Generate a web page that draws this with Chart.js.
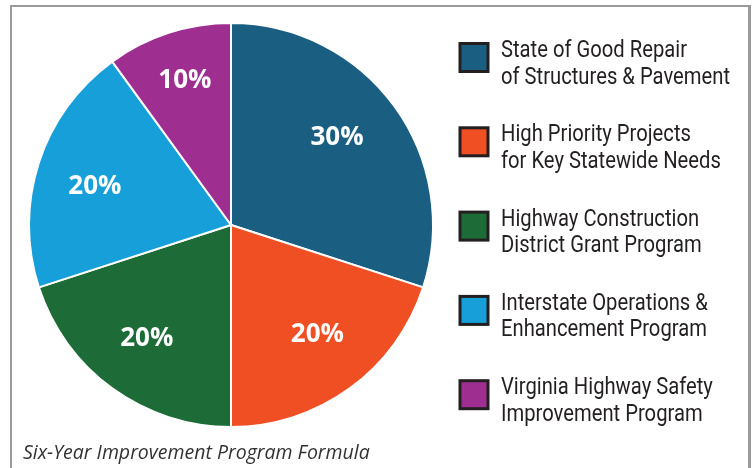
<!DOCTYPE html>
<html>
<head>
<meta charset="utf-8">
<script src="https://cdn.jsdelivr.net/npm/chart.js@4.4.1/dist/chart.umd.min.js"></script>
<style>
  html, body { margin: 0; padding: 0; background: #fff; }
  #wrap { position: relative; width: 753px; height: 468px; overflow: hidden; }
  #frame { position: absolute; left: 10px; top: 5px; width: 736px; height: 500px;
           border-left: 2px solid #9a9a9a; border-top: 2px solid #9a9a9a; border-right: 3px solid #9a9a9a; }
  canvas { position: absolute; left: 0; top: 0; }
</style>
</head>
<body>
<div id="wrap">
  <div id="frame"></div>
  <canvas id="c" width="753" height="468"></canvas>
</div>
<script>
const categories = [
  ["State of Good Repair", "of Structures & Pavement"],
  ["High Priority Projects", "for Key Statewide Needs"],
  ["Highway Construction", "District Grant Program"],
  ["Interstate Operations &", "Enhancement Program"],
  ["Virginia Highway Safety", "Improvement Program"]
];
const shares = [30, 20, 20, 20, 10];
const sliceLabels = ["30%", "20%", "20%", "20%", "10%"];
const colors = ["#1a5f82", "#f04e23", "#1d6b36", "#169fd8", "#9e2f90"];
const caption = "Six-Year Improvement Program Formula";

const overlay = {
  id: 'overlay',
  afterDatasetsDraw(chart) {
    const ctx = chart.ctx;
    const meta = chart.getDatasetMeta(0);
    ctx.save();
    // slice labels
    ctx.fillStyle = '#ffffff';
    ctx.font = 'bold 26px "Open Sans", "Noto Sans", sans-serif';
    ctx.textAlign = 'center';
    ctx.textBaseline = 'middle';
    const frac = [0.68, 0.69, 0.70, 0.70, 0.75];
    const tweak = [-0.06, -0.04, 0.01, -0.04, 0.005];
    meta.data.forEach((arc, i) => {
      const p = arc.getProps(['x', 'y', 'startAngle', 'endAngle', 'outerRadius'], true);
      const mid = (p.startAngle + p.endAngle) / 2 + tweak[i];
      const r = p.outerRadius * frac[i];
      ctx.fillText(sliceLabels[i], p.x + Math.cos(mid) * r, p.y + Math.sin(mid) * r);
    });
    // legend
    const bx = 460, top0 = 43.5, step = 84.3, bs = 28;
    ctx.font = '24px "Liberation Sans Narrow", "Roboto", "DejaVu Sans Condensed", sans-serif';
    const widest = Math.max(...categories.flat().map(t => ctx.measureText(t).width));
    const sx = 229 / ctx.measureText("of Structures & Pavement").width;
    ctx.textAlign = 'left';
    ctx.textBaseline = 'alphabetic';
    categories.forEach((lines, i) => {
      const y = top0 + i * step;
      ctx.fillStyle = colors[i];
      ctx.fillRect(bx, y, bs, bs);
      ctx.strokeStyle = '#231f20';
      ctx.lineWidth = 3;
      ctx.strokeRect(bx, y, bs, bs);
      ctx.fillStyle = '#231f20';
      lines.forEach((t, j) => {
        ctx.save();
        ctx.translate(501, y + 13.5 + j * 26.5);
        ctx.scale(sx, 1);
        ctx.fillText(t, 0, 0);
        ctx.restore();
      });
    });
    // caption
    ctx.fillStyle = '#333333';
    ctx.font = 'italic 19.5px "Open Sans", "Noto Sans", sans-serif';
    ctx.fillText(caption, 23, 459);
    ctx.restore();
  }
};

new Chart(document.getElementById('c'), {
  type: 'pie',
  data: {
    labels: categories.map(l => l.join(' ')),
    datasets: [{
      data: shares,
      backgroundColor: colors,
      borderColor: '#ffffff',
      borderWidth: 2
    }]
  },
  options: {
    responsive: false,
    animation: false,
    layout: { padding: { left: 28, top: 22, right: 319, bottom: 40 } },
    plugins: { legend: { display: false }, tooltip: { enabled: false } }
  },
  plugins: [overlay]
});
</script>
</body>
</html>
